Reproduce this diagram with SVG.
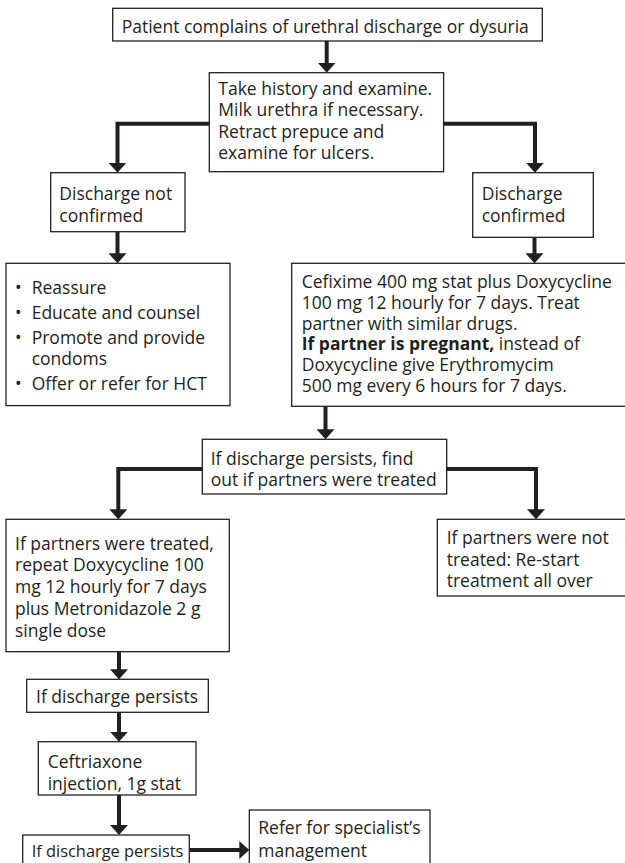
<svg xmlns="http://www.w3.org/2000/svg" width="625" height="863" viewBox="0 0 625 863">
  <style>
    .box { fill: #ffffff; stroke: #231f20; stroke-width: 1.3; }
    .t { font-family: "Open Sans", "Liberation Sans", sans-serif; font-size: 17.5px; fill: #231f20; }
    .sm { font-size: 16.4px; }
    .b { font-weight: bold; }
    .conn { fill: none; stroke: #231f20; stroke-width: 4; marker-end: url(#head); }
  </style>
  <defs>
    <marker id="head" viewBox="0 0 10 18" refX="4" refY="9" markerWidth="10" markerHeight="18" markerUnits="userSpaceOnUse" orient="auto">
      <path d="M0,0 L10,9 L0,18 z" fill="#231f20"/>
    </marker>
  </defs>
  <rect width="625" height="863" fill="#ffffff"/>

  <!-- connectors -->
  <g id="connectors">
    <path class="conn" d="M326.7,41 V66.7"/>
    <path class="conn" d="M209.3,123.7 H117.5 V166.7"/>
    <path class="conn" d="M443.6,123.7 H535 V166.7"/>
    <path class="conn" d="M117.5,231.7 V257.3"/>
    <path class="conn" d="M534.5,237.3 V257.3"/>
    <path class="conn" d="M325.5,406.3 V433.3"/>
    <path class="conn" d="M202.3,469 H118.3 V513.3"/>
    <path class="conn" d="M446.7,469 H536 V513.3"/>
    <path class="conn" d="M119,651.7 V673.3"/>
    <path class="conn" d="M119,712.3 V735.7"/>
    <path class="conn" d="M119,795 V829"/>
    <path class="conn" d="M189.3,850 H243.3"/>
  </g>

  <g id="n-complaint">
    <rect class="box" x="112.7" y="8.3" width="429.6" height="32.7"/>
    <text class="t" x="121.7" y="32.5">Patient complains of urethral discharge or dysuria</text>
  </g>

  <g id="n-history">
    <rect class="box" x="209.3" y="72.7" width="234.3" height="99"/>
    <text class="t" x="218.3" y="94.5">Take history and examine.</text>
    <text class="t" x="218.3" y="116">Milk urethra if necessary.</text>
    <text class="t" x="218.3" y="137.5">Retract prepuce and</text>
    <text class="t" x="218.3" y="159">examine for ulcers.</text>
  </g>

  <g id="n-not-confirmed">
    <rect class="box" x="50.7" y="172.7" width="134.3" height="59"/>
    <text class="t" x="59.3" y="199.5">Discharge not</text>
    <text class="t" x="59.3" y="221.5">confirmed</text>
  </g>

  <g id="n-confirmed">
    <rect class="box" x="472.7" y="172.7" width="120.6" height="64.6"/>
    <text class="t" x="481.7" y="199.5">Discharge</text>
    <text class="t" x="481.7" y="221.5">confirmed</text>
  </g>

  <g id="n-reassure">
    <rect class="box" x="6" y="263.3" width="224" height="142.3"/>
    <text class="t" x="15" y="293.5">•</text>
    <text class="t" x="31.7" y="293.5">Reassure</text>
    <text class="t" x="15" y="318.5">•</text>
    <text class="t" x="31.7" y="318.5">Educate and counsel</text>
    <text class="t" x="15" y="343.5">•</text>
    <text class="t" x="31.7" y="343.5">Promote and provide</text>
    <text class="t" x="31.7" y="365.3">condoms</text>
    <text class="t" x="15" y="390.3">•</text>
    <text class="t" x="31.7" y="390.3">Offer or refer for HCT</text>
  </g>

  <g id="n-treatment">
    <rect class="box" x="291.7" y="263.3" width="340" height="143"/>
    <text class="t" x="301.7" y="288.3">Cefixime 400 mg stat plus Doxycycline</text>
    <text class="t" x="301.7" y="309">100 mg 12 hourly for 7 days. Treat</text>
    <text class="t" x="301.7" y="329.7">partner with similar drugs.</text>
    <text class="t" x="301.7" y="350.4"><tspan class="b">If partner is pregnant,</tspan> instead of</text>
    <text class="t" x="301.7" y="371">Doxycycline give Erythromycim</text>
    <text class="t" x="301.7" y="391.7">500 mg every 6 hours for 7 days.</text>
  </g>

  <g id="n-persists-partners">
    <rect class="box" x="202.3" y="439.3" width="244.4" height="54.7"/>
    <text class="t" x="210.7" y="465">If discharge persists, find</text>
    <text class="t" x="210.7" y="486">out if partners were treated</text>
  </g>

  <g id="n-partners-treated">
    <rect class="box" x="6" y="519.3" width="223.3" height="132.4"/>
    <text class="t" x="15" y="549.5">If partners were treated,</text>
    <text class="t" x="15" y="571.3">repeat Doxycycline 100</text>
    <text class="t" x="15" y="593">mg 12 hourly for 7 days</text>
    <text class="t" x="15" y="615">plus Metronidazole 2 g</text>
    <text class="t" x="15" y="636.7">single dose</text>
  </g>

  <g id="n-partners-not-treated">
    <rect class="box" x="437.3" y="519.3" width="200" height="76.7"/>
    <text class="t" x="446.7" y="544">If partners were not</text>
    <text class="t" x="446.7" y="565.5">treated: Re-start</text>
    <text class="t" x="446.7" y="587">treatment all over</text>
  </g>

  <g id="n-persists-1">
    <rect class="box" x="26.7" y="679.3" width="181.6" height="33"/>
    <text class="t" x="36" y="703.3">If discharge persists</text>
  </g>

  <g id="n-ceftriaxone">
    <rect class="box" x="38.3" y="741.7" width="157.7" height="53.3"/>
    <text class="t" x="47.7" y="768.3">Ceftriaxone</text>
    <text class="t" x="47.7" y="790">injection, 1g stat</text>
  </g>

  <g id="n-persists-2">
    <rect class="box" x="22.7" y="835" width="166.6" height="40"/>
    <text class="t sm" x="31.7" y="857">If discharge persists</text>
  </g>

  <g id="n-refer">
    <rect class="box" x="249.3" y="810" width="180.7" height="60"/>
    <text class="t" x="258.3" y="834">Refer for specialist’s</text>
    <text class="t" x="258.3" y="857">management</text>
  </g>
</svg>
